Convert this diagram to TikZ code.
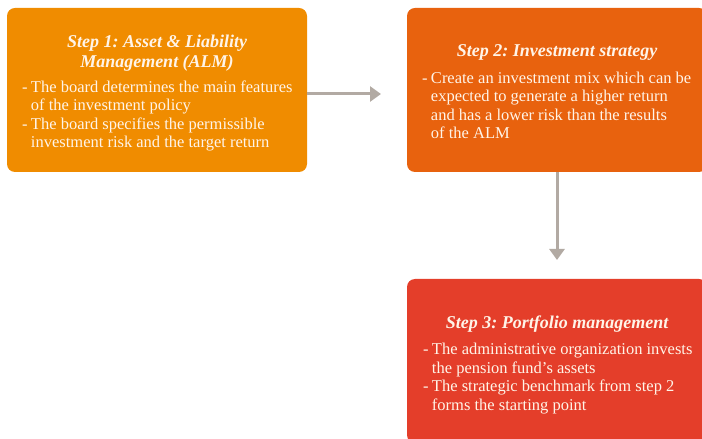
\documentclass[tikz,border=0pt]{standalone}
\usepackage{fontspec}
\setmainfont{Liberation Serif}
\usetikzlibrary{arrows.meta,calc}
\definecolor{boxA}{RGB}{240,140,0}
\definecolor{boxB}{RGB}{232,98,14}
\definecolor{boxC}{RGB}{228,62,42}
\definecolor{arr}{RGB}{178,170,163}
\definecolor{txt}{RGB}{255,244,232}
\tikzset{
  stepbox/.style={draw=none, rounded corners=8pt, minimum width=300pt, minimum height=164pt, inner sep=0pt},
  titletext/.style={text=txt, font=\fontsize{18}{19.5}\selectfont\bfseries\itshape, align=center, inner sep=0pt},
  bodytext/.style={text=txt, font=\fontsize{16.5}{18.5}\selectfont, inner sep=0pt, anchor=north west},
  conn/.style={draw=arr, line width=3pt, -{Triangle[length=11pt,width=15pt]}}
}
\begin{document}
\frenchspacing
\begin{tikzpicture}[x=1pt,y=1pt]
\useasboundingbox (0,0) rectangle (702,439);
\clip (0,0) rectangle (702,439);
\node[stepbox, fill=boxA] (b1) at (157,349) {};
\node[stepbox, fill=boxB] (b2) at (557,349) {};
\node[stepbox, fill=boxC] (b3) at (557,78) {};
\node[titletext, anchor=north] (t1) at ($(b1.north)+(0,-27.5)$) {Step 1: Asset \& Liability\\Management (ALM)};
\node[bodytext] (d1) at ($(b1.north west)+(15,-71.5)$) {%
\begin{tabular}{@{}l@{\hspace{3.5pt}}l@{}}
- & The board determines the main features\\
  & of the investment policy\\
- & The board specifies the permissible\\
  & investment risk and the target return
\end{tabular}};
\node[titletext, anchor=base] (t2) at ($(b2.north)+(0,-49)$) {Step 2: Investment strategy};
\node[bodytext] (d2) at ($(b2.north west)+(15,-62.5)$) {%
\begin{tabular}{@{}l@{\hspace{3.5pt}}l@{}}
- & Create an investment mix which can be\\
  & expected to generate a higher return\\
  & and has a lower risk than the results\\
  & of the ALM
\end{tabular}};
\node[titletext, anchor=base] (t3) at ($(b3.north)+(0,-50)$) {Step 3: Portfolio management};
\node[bodytext] (d3) at ($(b3.north west)+(16,-63)$) {%
\begin{tabular}{@{}l@{\hspace{3.5pt}}l@{}}
- & The administrative organization invests\\
  & the pension fund’s assets\\
- & The strategic benchmark from step 2\\
  & forms the starting point
\end{tabular}};
\coordinate (a1) at (381,345);
\coordinate (a2) at (557,179);
\draw[conn] (b1.east |- 0,345) -- (a1);
\draw[conn] (b2.south) -- (a2);
\end{tikzpicture}
\end{document}
